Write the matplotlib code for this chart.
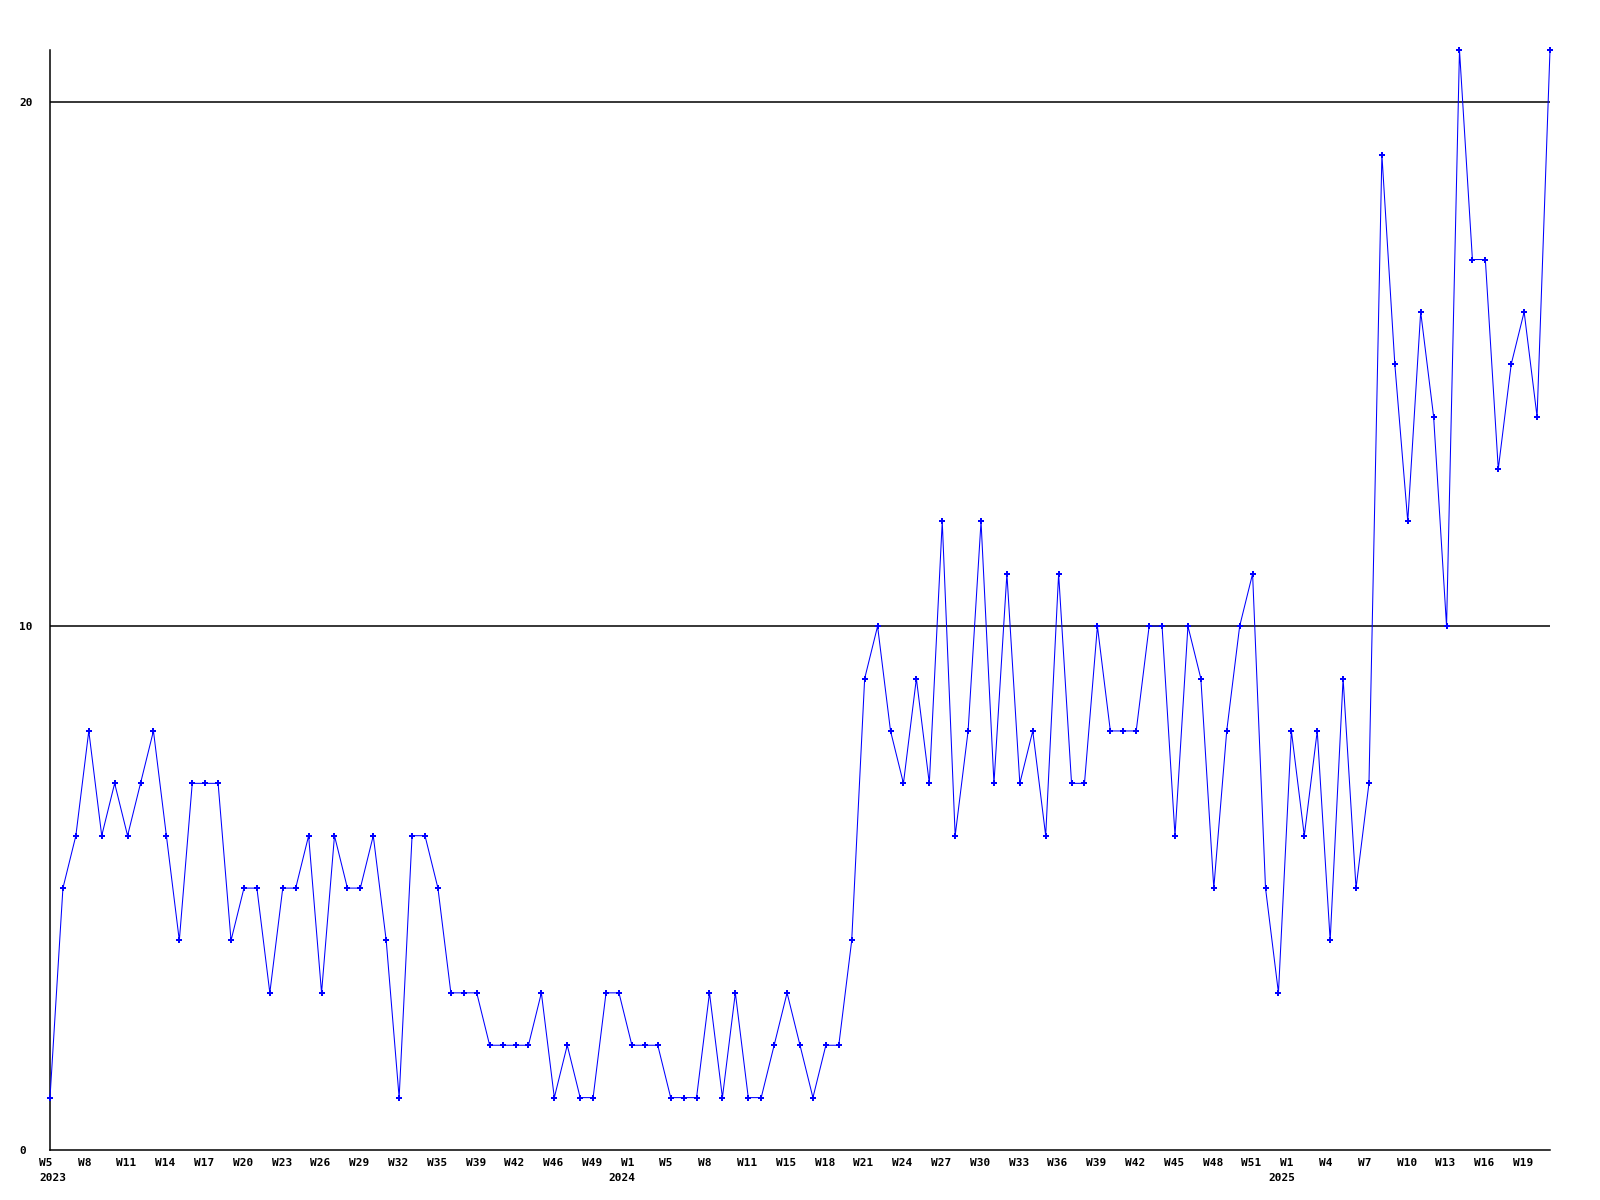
import matplotlib
matplotlib.use("Agg")
import matplotlib.pyplot as plt
import matplotlib.transforms as mtransforms

# weekly counts, W5 2023 .. W20 2025 (weeks without data are skipped)
values = [
    1, 5, 6, 8, 6, 7, 6, 7, 8, 6, 4, 7, 7, 7, 4, 5, 5, 3, 5, 5,
    6, 3, 6, 5, 5, 6, 4, 1, 6, 6, 5, 3, 3, 3, 2, 2, 2, 2, 3, 1,
    2, 1, 1, 3, 3, 2, 2, 2, 1, 1, 1, 3, 1, 3, 1, 1, 2, 3, 2, 1,
    2, 2, 4, 9, 10, 8, 7, 9, 7, 12, 6, 8, 12, 7, 11, 7, 8, 6, 11, 7,
    7, 10, 8, 8, 8, 10, 10, 6, 10, 9, 5, 8, 10, 11, 5, 3, 8, 6, 8, 4,
    9, 5, 7, 19, 15, 12, 16, 14, 10, 21, 17, 17, 13, 15, 16, 14, 21,
]

# one label every third point
week_labels = [
    "W5", "W8", "W11", "W14", "W17", "W20", "W23", "W26", "W29", "W32",
    "W35", "W39", "W42", "W46", "W49", "W1", "W5", "W8", "W11", "W15",
    "W18", "W21", "W24", "W27", "W30", "W33", "W36", "W39", "W42", "W45",
    "W48", "W51", "W1", "W4", "W7", "W10", "W13", "W16", "W19",
]
# index into week_labels -> year
year_labels = {0: "2023", 15: "2024", 32: "2025"}
y_ticks = [0, 10, 20]

fig = plt.figure(figsize=(16, 12), dpi=100)
ax = fig.add_axes([50 / 1600, 50 / 1200, 1500 / 1600, 1100 / 1200])

xs = list(range(len(values)))
ax.plot(xs, values, color="#0000ff", linewidth=0.75, marker="P",
        markersize=4, markeredgewidth=0, clip_on=False, zorder=3)

for yv in y_ticks[1:]:
    ax.axhline(yv, color="black", linewidth=1.1, zorder=1)

ax.set_xlim(0, len(values) - 1)
ax.set_ylim(0, 21)

font = dict(family="DejaVu Sans Mono", weight="bold", size=8)
tick_pos = xs[::3]
ax.set_xticks(tick_pos)
ax.set_xticklabels(week_labels, ha="left", va="top", **font)
ax.set_yticks(y_ticks)
ax.set_yticklabels([str(v) for v in y_ticks], ha="left", **font)
ax.tick_params(axis="both", length=0)
ax.tick_params(axis="x", pad=6)
ax.tick_params(axis="y", pad=22)

# labels sit a little left of their point
shift = mtransforms.ScaledTranslation(-0.112, 0, fig.dpi_scale_trans)
for lab in ax.get_xticklabels():
    lab.set_transform(lab.get_transform() + shift)

for i, yr in year_labels.items():
    if i == 0:
        ax.annotate(yr, xy=(tick_pos[i], 0), xytext=(-8, -20),
                    textcoords="offset points", ha="left", va="center", **font)
    else:
        ax.annotate(yr, xy=(tick_pos[i], 0), xytext=(-7, -20),
                    textcoords="offset points", ha="center", va="center", **font)

for s in ["top", "right"]:
    ax.spines[s].set_visible(False)
for s in ["left", "bottom"]:
    ax.spines[s].set_linewidth(1.1)
    ax.spines[s].set_color("black")

fig.savefig("out.png", dpi=100, facecolor="white")
